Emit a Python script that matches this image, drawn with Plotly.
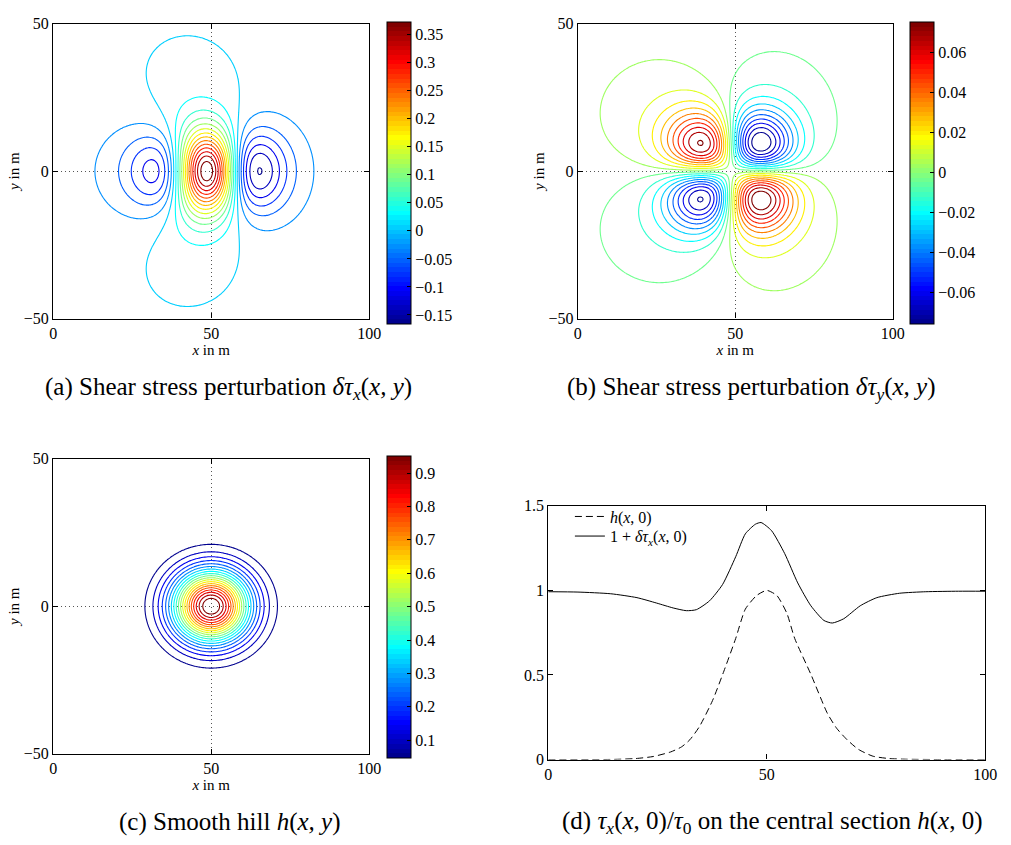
import numpy as np
import plotly.graph_objects as go

# ------------------------------------------------------------------
# Values
# ------------------------------------------------------------------
# Smooth hill (panel c and dashed curve of panel d)
HILL_HEIGHT = 1.0
HILL_X0 = 50.0
HILL_Y0 = 0.0
HILL_SIGMA = 8.5

# Panel (d): central section h(x,0)
H_X = [0, 15, 20, 24, 28, 30.5, 32.4, 34.6, 37.6, 40.2, 42.9, 45.1, 47.7, 50,
       52.3, 54.6, 56.4, 60.1, 63.9, 66, 68.4, 71, 74.3, 78, 82, 90, 100]
H_V = [0, 0.001, 0.006, 0.018, 0.045, 0.075, 0.117, 0.195, 0.349, 0.523, 0.716, 0.889, 0.97, 1.0,
       0.97, 0.865, 0.716, 0.504, 0.272, 0.185, 0.117, 0.06, 0.02, 0.006, 0.002, 0, 0]

# Panel (d): 1 + delta tau_x(x,0)
TAU_X = [0, 6.8, 14.3, 20.3, 24.8, 28.6, 31.6, 33.9, 36.9, 39.9, 42.9, 45.1, 47.4, 48.7,
         51.1, 54.1, 57.1, 60.1, 63.1, 65.0, 67.6, 71.4, 75.2, 80.4, 86.4, 93.9, 100]
TAU_V = [0.992, 0.990, 0.980, 0.957, 0.925, 0.896, 0.880, 0.886, 0.938, 1.035, 1.199, 1.334, 1.391, 1.401,
         1.353, 1.218, 1.044, 0.909, 0.822, 0.807, 0.832, 0.909, 0.957, 0.983, 0.992, 0.995, 0.995]

# Extreme of delta tau_y (panel b)
TAUY_PEAK = 0.0834

# Colour-bar ranges (first / last contour level) and contour count
CB_A = [-0.1655, 0.3735]
CB_B = [-0.0755, 0.0755]
CB_C = [0.0476, 0.952]
N_LEVELS = 20

# Tick labels
CB_A_TICKS = [-0.15, -0.1, -0.05, 0, 0.05, 0.1, 0.15, 0.2, 0.25, 0.3, 0.35]
CB_A_TEXT = ["\u22120.15", "\u22120.1", "\u22120.05", "0", "0.05", "0.1", "0.15", "0.2", "0.25", "0.3", "0.35"]
CB_B_TICKS = [-0.06, -0.04, -0.02, 0, 0.02, 0.04, 0.06]
CB_B_TEXT = ["\u22120.06", "\u22120.04", "\u22120.02", "0", "0.02", "0.04", "0.06"]
CB_C_TICKS = [0.1, 0.2, 0.3, 0.4, 0.5, 0.6, 0.7, 0.8, 0.9]
CB_C_TEXT = ["0.1", "0.2", "0.3", "0.4", "0.5", "0.6", "0.7", "0.8", "0.9"]
XY_XTICKS = [0, 50, 100]
XY_XTEXT = ["0", "50", "100"]
XY_YTICKS = [-50, 0, 50]
XY_YTEXT = ["\u221250", "0", "50"]
D_YTICKS = [0, 0.5, 1, 1.5]
D_YTEXT = ["0", "0.5", "1", "1.5"]

CAPTIONS = [
    "(a) Shear stress perturbation <i>\u03b4\u03c4<sub>x</sub></i>(<i>x, y</i>)",
    "(b) Shear stress perturbation <i>\u03b4\u03c4<sub>y</sub></i>(<i>x, y</i>)",
    "(c) Smooth hill <i>h</i>(<i>x, y</i>)",
    "(d) <i>\u03c4<sub>x</sub></i>(<i>x</i>, 0)/<i>\u03c4</i><sub>0</sub> on the central section <i>h</i>(<i>x</i>, 0)",
]

# ------------------------------------------------------------------
# Fields: hill and linear shear-stress response (calibrated on panel d)
# ------------------------------------------------------------------
N = 800
DX = 0.5
gx = -150.0 + DX * np.arange(N)
gy = -200.0 + DX * np.arange(N)
GX, GY = np.meshgrid(gx, gy)
Hg = HILL_HEIGHT * np.exp(-((GX - HILL_X0) ** 2 + (GY - HILL_Y0) ** 2) / (2 * HILL_SIGMA ** 2))
k = 2 * np.pi * np.fft.fftfreq(N, d=DX)
KX, KY = np.meshgrid(k, k)
K = np.hypot(KX, KY)
K[0, 0] = 1.0
Hk = np.fft.fft2(Hg)


def field(op):
    return np.real(np.fft.ifft2(Hk * op))


Fx1 = field(KX ** 2 / K)
Fx2 = field(1j * KX ** 3 / K ** 2)
Fy1 = field(KX * KY / K)
Fy2 = field(1j * KX ** 2 * KY / K ** 2)

j0 = int(np.argmin(np.abs(gy)))
M = np.column_stack([np.interp(TAU_X, gx, Fx1[j0]), np.interp(TAU_X, gx, Fx2[j0])])
coef, *_ = np.linalg.lstsq(M, np.array(TAU_V) - 1.0, rcond=None)
A, B = coef

ix = (gx >= 0) & (gx <= 100)
iy = (gy >= -50) & (gy <= 50)
cx = gx[ix]
cy = gy[iy]
TX = (A * Fx1 + B * Fx2)[np.ix_(iy, ix)]
TY = (A * Fy1 + B * Fy2)[np.ix_(iy, ix)]
TY = TY * TAUY_PEAK / np.abs(TY).max()
HC = Hg[np.ix_(iy, ix)]


# ------------------------------------------------------------------
# Matlab jet(64) colormap, stepped
# ------------------------------------------------------------------
def matlab_jet(m=64):
    n = int(np.ceil(m / 4))
    u = np.concatenate([np.arange(1, n + 1) / n, np.ones(n - 1), np.arange(n, 0, -1) / n])
    g = int(np.ceil(n / 2)) - (1 if m % 4 == 1 else 0) + np.arange(1, len(u) + 1)
    J = np.zeros((m, 3))
    for ch, idxs in enumerate([g + n, g, g - n]):
        for idx, val in zip(idxs, u):
            if 1 <= idx <= m:
                J[idx - 1, ch] = val
    return J


JET = []
_J = matlab_jet(64)
for i, c in enumerate(_J):
    col = "rgb(%d,%d,%d)" % tuple(int(round(v * 255)) for v in c)
    JET.append([i / 64, col])
    JET.append([(i + 1) / 64, col])
JET[-1][0] = 1.0

# ------------------------------------------------------------------
# Layout helpers (pixel geometry)
# ------------------------------------------------------------------
W, H = 1011, 845
FONT = "Liberation Serif"


def xdom(p0, p1):
    return [p0 / W, p1 / W]


def ydom(p0, p1):
    return [1 - p1 / H, 1 - p0 / H]


def axis(domain, rng, tv, tt, anchor, grid, title=None):
    d = dict(domain=domain, range=rng, tickvals=tv, ticktext=tt, ticks="inside", ticklen=5,
             tickwidth=1, tickcolor="black", showline=True, linecolor="black", linewidth=1.3,
             mirror="ticks", showgrid=grid, gridcolor="#555", griddash="1px,3px", gridwidth=1,
             zeroline=False, anchor=anchor, fixedrange=True,
             tickfont=dict(family=FONT, size=16, color="black"))
    if title:
        d["title"] = dict(text=title, font=dict(family=FONT, size=15, color="black"), standoff=0)
    return d


def colorbar(px_left, py_top, py_bot, tv, tt):
    return dict(x=px_left / W, xanchor="left", y=1 - (py_top + py_bot) / 2 / H, yanchor="middle",
                len=py_bot - py_top, lenmode="pixels", thickness=24, thicknessmode="pixels",
                xpad=0, ypad=0, outlinewidth=1, outlinecolor="black", ticks="inside", ticklen=4,
                tickcolor="black", tickvals=tv, ticktext=tt,
                tickfont=dict(family=FONT, size=16, color="black"))


fig = go.Figure()

panels = [
    ("x", "y", TX, CB_A, (389, 17, 319), CB_A_TICKS, CB_A_TEXT),
    ("x2", "y2", TY, CB_B, (921, 17, 319), CB_B_TICKS, CB_B_TEXT),
    ("x3", "y3", HC, CB_C, (389, 460, 762), CB_C_TICKS, CB_C_TEXT),
]
for xa, ya, Z, cb, cbpos, tv, tt in panels:
    size = (cb[1] - cb[0]) / (N_LEVELS - 1)
    fig.add_trace(go.Contour(
        x=cx, y=cy, z=Z, autocontour=False,
        contours=dict(start=cb[0], end=cb[1] + size * 1e-3, size=size, coloring="lines"),
        line=dict(width=1.1), colorscale=JET, showscale=False, xaxis=xa, yaxis=ya,
        hoverinfo="skip", showlegend=False))
    fig.add_trace(go.Scatter(
        x=[None], y=[None], mode="markers", xaxis=xa, yaxis=ya, showlegend=False, hoverinfo="skip",
        marker=dict(color=[cb[0]], cmin=cb[0], cmax=cb[1], colorscale=JET, showscale=True,
                    colorbar=colorbar(*cbpos, tv, tt))))

fig.add_trace(go.Scatter(x=H_X, y=H_V, mode="lines", xaxis="x4", yaxis="y4", legend="legend",
                         line=dict(color="black", width=1, dash="7px,4px", shape="spline", smoothing=0.6),
                         name="<i>h</i>(<i>x</i>, 0)"))
fig.add_trace(go.Scatter(x=TAU_X, y=TAU_V, mode="lines", xaxis="x4", yaxis="y4", legend="legend2",
                         line=dict(color="black", width=1, shape="spline", smoothing=0.6),
                         name="1 + <i>\u03b4\u03c4<sub>x</sub></i>(<i>x</i>, 0)"))

LEG = dict(x=575 / W, xanchor="left", yanchor="middle", bgcolor="rgba(0,0,0,0)",
           font=dict(family=FONT, size=16, color="black"), tracegroupgap=0)

fig.update_layout(
    width=W, height=H, autosize=False, margin=dict(l=0, r=0, t=0, b=0),
    paper_bgcolor="white", plot_bgcolor="white",
    font=dict(family=FONT, color="black"),
    xaxis=axis(xdom(50, 371), [0, 100], XY_XTICKS, XY_XTEXT, "y", True, "<i>x</i> in m"),
    yaxis=axis(ydom(16, 317), [-50, 50], XY_YTICKS, XY_YTEXT, "x", True, "<i>y</i> in m"),
    xaxis2=axis(xdom(583, 903), [0, 100], XY_XTICKS, XY_XTEXT, "y2", True, "<i>x</i> in m"),
    yaxis2=axis(ydom(16, 317), [-50, 50], XY_YTICKS, XY_YTEXT, "x2", True, "<i>y</i> in m"),
    xaxis3=axis(xdom(50, 371), [0, 100], XY_XTICKS, XY_XTEXT, "y3", True, "<i>x</i> in m"),
    yaxis3=axis(ydom(460, 761), [-50, 50], XY_YTICKS, XY_YTEXT, "x3", True, "<i>y</i> in m"),
    xaxis4=axis(xdom(553, 997), [0, 100], XY_XTICKS, XY_XTEXT, "y4", False),
    yaxis4=axis(ydom(508, 767), [0, 1.5], D_YTICKS, D_YTEXT, "x4", False),
    legend=dict(LEG, y=1 - 519 / H),
    legend2=dict(LEG, y=1 - 539 / H),
)

cap_pos = [(228, 388), (760, 388), (230, 831), (780, 831)]
for text, (px, py) in zip(CAPTIONS, cap_pos):
    fig.add_annotation(text=text, x=px / W, y=1 - py / H, xref="paper", yref="paper",
                       xanchor="center", yanchor="middle", showarrow=False,
                       font=dict(family=FONT, size=25, color="black"))

fig.write_html("out.html")
